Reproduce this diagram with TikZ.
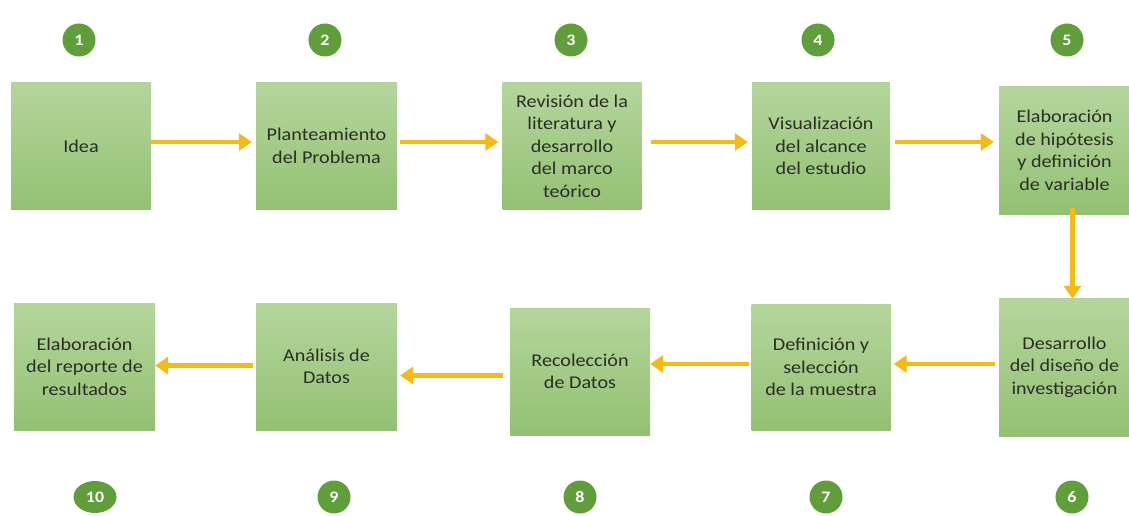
\documentclass[tikz,border=0pt]{standalone}
\usepackage{fontspec}
\setmainfont{Carlito}[FakeStretch=1.12]
\usetikzlibrary{arrows.meta,shapes.geometric}
\definecolor{boxtop}{HTML}{B4D69C}
\definecolor{boxbot}{HTML}{94C073}
\definecolor{numgreen}{HTML}{5F9E3A}
\definecolor{arrowc}{HTML}{F7BA14}
\definecolor{txt}{HTML}{2B2E26}
\tikzset{
  stepbox/.style={rectangle, top color=boxtop, bottom color=boxbot, draw=none,
    align=center, text=txt, font=\fontsize{18}{22.5}\selectfont, inner sep=0pt},
  numdot/.style={ellipse, fill=numgreen, text=white, inner sep=0pt,
    minimum width=33, minimum height=33, font=\bfseries\fontsize{16}{18}\selectfont},
  flow/.style={draw=arrowc, line width=4.5pt, -{Triangle[length=13pt,width=17pt]}}
}
\begin{document}
\begin{tikzpicture}[x=1pt,y=-1pt]
\useasboundingbox[fill=white] (0,0) rectangle (1129,516);
% top row boxes
\node[stepbox, minimum width=140, minimum height=126] (b1) at (81,146) {Idea};
\node[stepbox, minimum width=141, minimum height=126] (b2) at (326.5,146) {Planteamiento\\del Problema};
\node[stepbox, minimum width=139, minimum height=126] (b3) at (572,146) {Revisión de la\\literatura y\\desarrollo\\del marco\\teórico};
\node[stepbox, minimum width=138, minimum height=126] (b4) at (821,146) {Visualización\\del alcance\\del estudio};
\node[stepbox, minimum width=131, minimum height=127] (b5) at (1064.5,150.5) {Elaboración\\de hipótesis\\y definición\\de variable};
% bottom row boxes
\node[stepbox, minimum width=131, minimum height=138] (b6) at (1064.5,367) {Desarrollo\\del diseño de\\investigación};
\node[stepbox, minimum width=139, minimum height=126] (b7) at (821,367) {Definición y\\selección\\de la muestra};
\node[stepbox, minimum width=140, minimum height=127] (b8) at (580,371.5) {Recolección\\de Datos};
\node[stepbox, minimum width=141, minimum height=127] (b9) at (326.5,366.5) {Análisis de\\Datos};
\node[stepbox, minimum width=141, minimum height=127] (b10) at (84.5,366.5) {Elaboración\\del reporte de\\resultados};
% numbers
\node[numdot] (n1) at (79,40) {1};
\node[numdot] (n2) at (325,40) {2};
\node[numdot] (n3) at (571,40) {3};
\node[numdot] (n4) at (818,40) {4};
\node[numdot] (n5) at (1067,40) {5};
\node[numdot] (n6) at (1072,497) {6};
\node[numdot] (n7) at (826,497) {7};
\node[numdot] (n8) at (580,497) {8};
\node[numdot] (n9) at (334,497) {9};
\node[numdot, minimum width=43, minimum height=32] (n10) at (95,497) {10};
% connectors
\draw[flow] ([yshift=4]b1.east) -- ([yshift=4,xshift=-4]b1.east -| b2.west);
\draw[flow] ([yshift=4,xshift=3]b2.east) -- ([yshift=4,xshift=-4]b2.east -| b3.west);
\draw[flow] ([yshift=4,xshift=9]b3.east) -- ([yshift=4,xshift=-4]b3.east -| b4.west);
\draw[flow] ([yshift=4,xshift=5]b4.east) -- ([yshift=4,xshift=-5]b4.east -| b5.west);
\draw[flow] ([xshift=8,yshift=6]b5.south) -- ([xshift=8,yshift=-1]b5.south |- b6.north);
\draw[flow] ([yshift=3,xshift=-4]b6.west) -- ([yshift=3,xshift=3]b6.west -| b7.east);
\draw[flow] ([yshift=3,xshift=-2]b7.west) -- ([yshift=3,xshift=0]b7.west -| b8.east);
\draw[flow] ([yshift=-4,xshift=-7]b8.west) -- ([yshift=-4,xshift=3]b8.west -| b9.east);
\draw[flow] ([yshift=1,xshift=-3]b9.west) -- ([yshift=1,xshift=0]b9.west -| b10.east);
\end{tikzpicture}
\end{document}
